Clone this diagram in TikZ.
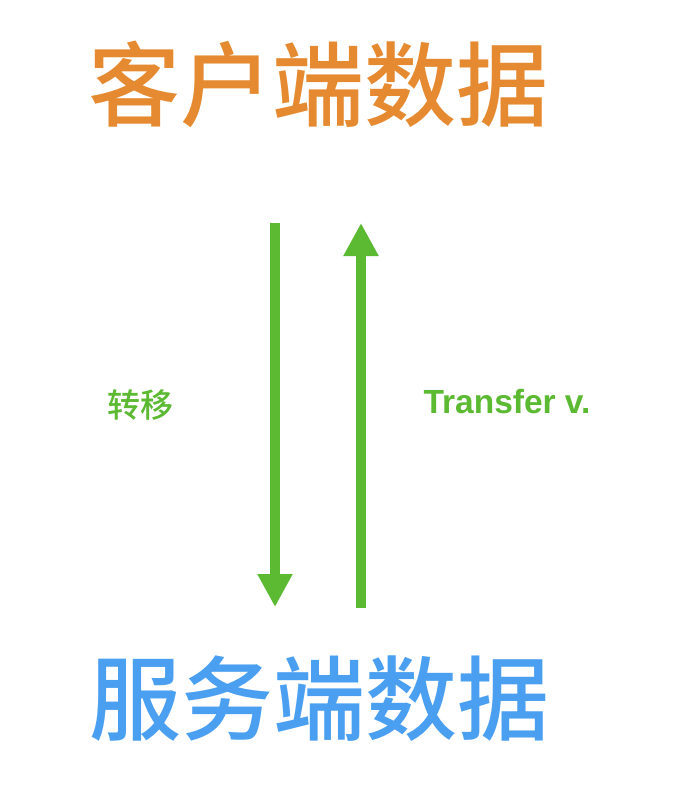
\documentclass[tikz,border=0pt]{standalone}
\usepackage{fontspec}
\setmainfont{Liberation Sans}
\newfontfamily\cjk{Noto Sans CJK SC}[BoldFont=* Medium]
\usetikzlibrary{arrows.meta}
\definecolor{titleorange}{RGB}{229,138,48}
\definecolor{titleblue}{RGB}{74,159,240}
\definecolor{flowgreen}{RGB}{91,185,50}
\tikzset{
  bigtitle/.style={font=\cjk\bfseries\fontsize{92}{92}\selectfont, inner sep=0pt},
  sidelabel/.style={text=flowgreen, inner sep=0pt},
  flow/.style={draw=flowgreen, line width=9.5pt, -{Triangle[width=33pt,length=33pt]}}
}
\begin{document}
\begin{tikzpicture}[x=1pt,y=-1pt]
\useasboundingbox (0,0) rectangle (676,786);

\node[bigtitle, text=titleorange] (client) at (318,84) {客户端数据};
\node[bigtitle, text=titleblue] (server) at (319,699) {服务端数据};

\coordinate (downtop) at (275,223);
\coordinate (downend) at (275,607);
\coordinate (upbottom) at (361,608);
\coordinate (uptop) at (361,223);

\draw[flow] (downtop) -- (downend);
\draw[flow] (upbottom) -- (uptop);

\node[sidelabel, font=\cjk\bfseries\fontsize{33}{33}\selectfont] (zh) at (140,405) {转移};
\node[sidelabel, font=\bfseries\fontsize{33.5}{33.5}\selectfont] (en) at (507,402) {Transfer v.};
\end{tikzpicture}
\end{document}
